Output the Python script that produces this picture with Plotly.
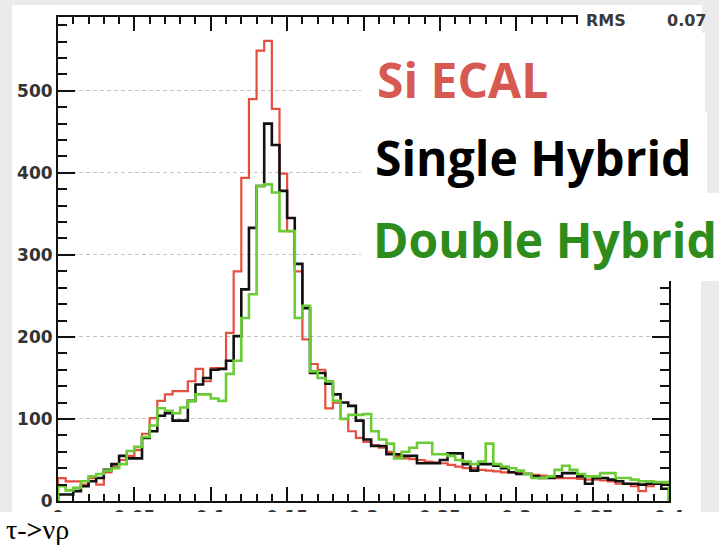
import plotly.graph_objects as go

# ---------------- data (bin width 0.005, 80 bins from 0 to 0.4) ----------------
bin_width = 0.005
x_min, x_max = 0.0, 0.4

si_ecal = [28, 24, 24, 20, 28, 20, 35, 42, 50, 55,
           62, 82, 101, 122, 130, 134, 134, 146, 161, 146,
           162, 162, 205, 280, 394, 490, 549, 561, 478, 399,
           329, 280, 197, 167, 160, 113, 120, 100, 85, 77,
           72, 68, 65, 60, 55, 52, 51, 50, 48, 47,
           46, 44, 42, 40, 40, 38, 37, 36, 35, 35,
           34, 33, 32, 31, 30, 28, 28, 28, 27, 26,
           26, 25, 24, 21, 21, 18, 12, 18, 21, 21]

single_hybrid = [8, 8, 12, 18, 24, 28, 38, 45, 55, 52,
                 52, 77, 85, 104, 107, 98, 98, 122, 142, 150,
                 160, 161, 171, 201, 258, 333, 384, 460, 434, 378,
                 345, 289, 235, 156, 156, 143, 130, 120, 116, 98,
                 75, 67, 67, 57, 57, 55, 55, 46, 46, 46,
                 50, 58, 58, 45, 37, 45, 45, 43, 40, 35,
                 33, 33, 30, 28, 28, 30, 34, 34, 30, 21,
                 28, 28, 26, 24, 21, 21, 20, 21, 21, 15]

double_hybrid = [18, 13, 16, 24, 30, 33, 37, 40, 45, 61,
                 66, 78, 92, 113, 110, 107, 114, 122, 130, 130,
                 125, 122, 155, 171, 223, 252, 384, 386, 376, 329,
                 329, 223, 238, 158, 150, 146, 122, 100, 105, 105,
                 106, 85, 75, 70, 52, 60, 65, 71, 71, 57,
                 57, 55, 50, 48, 45, 48, 70, 45, 42, 40,
                 37, 33, 28, 28, 30, 38, 43, 38, 33, 30,
                 30, 34, 34, 28, 28, 26, 24, 24, 23, 23]

x_ticks = [0, 0.05, 0.1, 0.15, 0.2, 0.25, 0.3, 0.35, 0.4]
x_tick_labels = ["0", "0.05", "0.1", "0.15", "0.2", "0.25", "0.3", "0.35", "0.4"]
y_ticks = [0, 100, 200, 300, 400, 500]

series_names = ["Si ECAL", "Single Hybrid", "Double Hybrid"]
rms_label, rms_value = "RMS", "0.07"
channel_label = "τ-<b>&gt;</b>νρ"

# ---------------- layout helpers ----------------
W, H = 719, 546
L, R, T, B = 58, 669, 17, 501


def px(x):
    return (x - L) / (R - L)


def py(y):
    return (B - y) / (B - T)


def step_xy(vals):
    n = len(vals)
    edges = [x_min + i * bin_width for i in range(n + 1)]
    xs = [x_min] + edges + [edges[-1]]
    ys = [0] + list(vals) + [vals[-1], 0]
    return xs, ys


fig = go.Figure()
line_styles = [("#e4503f", 2.2), ("#111111", 2.6), ("#6ccc35", 2.6)]
for name, vals, (col, w) in zip(series_names, [si_ecal, single_hybrid, double_hybrid], line_styles):
    xs, ys = step_xy(vals)
    fig.add_trace(go.Scatter(x=xs, y=ys, mode="lines", name=name,
                             line=dict(color=col, width=w, shape="hv"),
                             hoverinfo="skip"))

tickfont = dict(family="DejaVu Sans, Liberation Sans, Arial", size=17, color="#333333", weight="bold")

fig.update_xaxes(range=[x_min, x_max], tickmode="array", tickvals=x_ticks, ticktext=x_tick_labels,
                 ticks="inside", ticklen=14, tickwidth=2, tickcolor="#111",
                 minor=dict(dtick=0.01, ticks="inside", ticklen=7, tickwidth=2, tickcolor="#111"),
                 showline=True, linewidth=2, linecolor="#111", mirror="ticks",
                 showgrid=False, zeroline=False, tickfont=tickfont)
fig.update_yaxes(range=[0, 590], tickmode="array", tickvals=y_ticks,
                 ticks="inside", ticklen=17, tickwidth=2, tickcolor="#111",
                 minor=dict(dtick=20, ticks="inside", ticklen=9, tickwidth=2, tickcolor="#111",
                            showgrid=False),
                 showline=True, linewidth=2, linecolor="#111", mirror="ticks",
                 showgrid=True, gridcolor="#c4c4c4", gridwidth=1, griddash="4px,3px",
                 zeroline=False, tickfont=tickfont)

shapes = []


def rect(x0, y0, x1, y1, color, layer):
    shapes.append(dict(type="rect", xref="paper", yref="paper",
                       x0=px(x0), x1=px(x1), y0=py(y1), y1=py(y0),
                       fillcolor=color, line=dict(width=0), layer=layer))


# page background: gray frame and white slide area
rect(0, 0, 719, 512, "#ebebeb", "below")
rect(12, 5, 701, 512, "#ffffff", "below")
# crop of tick labels at the bottom
rect(0, 512, 719, 546, "#ffffff", "above")
# stats box (partially hidden)
rect(578, 5, 702, 33, "#ffffff", "above")
# legend boxes
rect(361, 33, 705, 112, "#ffffff", "above")
rect(361, 112, 707, 193, "#ffffff", "above")
rect(361, 193, 719, 281, "#ffffff", "above")

legend_font = "Open Sans, Noto Sans, sans-serif"
stat_font = dict(family="DejaVu Sans, Liberation Sans, Arial", size=16, color="#3a3a3a", weight="bold")
annotations = [
    dict(text=series_names[0], x=px(375), y=py(80), font=dict(family=legend_font, size=48, color="#d65a52", weight="bold")),
    dict(text=series_names[1], x=px(373), y=py(157), font=dict(family=legend_font, size=48, color="#000000", weight="bold")),
    dict(text=series_names[2], x=px(371), y=py(239), font=dict(family=legend_font, size=48, color="#2e8c1d", weight="bold")),
    dict(text=rms_label, x=px(584), y=py(21), font=stat_font),
    dict(text=rms_value, x=px(665), y=py(21), font=stat_font),
    dict(text=channel_label, x=px(4), y=py(529), font=dict(family="Liberation Serif, Times New Roman, serif", size=28, color="#000000")),
]
for a in annotations:
    a.update(xref="paper", yref="paper", xanchor="left", yanchor="middle", showarrow=False)

fig.update_layout(width=W, height=H, margin=dict(l=L, r=W - R, t=T, b=H - B),
                  paper_bgcolor="#ffffff", plot_bgcolor="#ffffff",
                  showlegend=False, shapes=shapes, annotations=annotations)

fig.write_html("out.html", config={"displayModeBar": False},
               post_script="document.body.style.margin='0px';document.body.style.overflow='hidden';")
